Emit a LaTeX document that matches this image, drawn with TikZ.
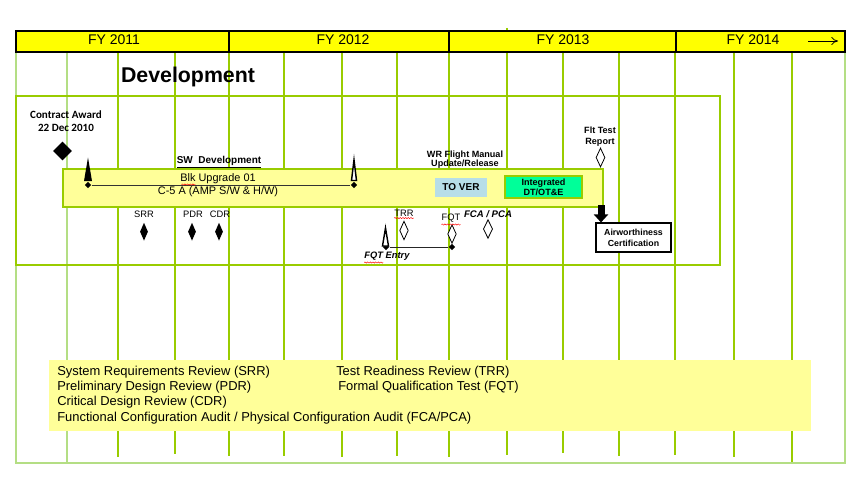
\documentclass[tikz,border=0pt]{standalone}
\usepackage{fontspec}
\setmainfont{Liberation Sans}
\newfontfamily\calibrifont{Carlito}
\usetikzlibrary{shapes.geometric,arrows.meta,decorations.pathmorphing}
\definecolor{hdr}{HTML}{FFFF00}
\definecolor{gridc}{HTML}{99CC00}
\definecolor{gridlt}{HTML}{B4DE84}
\definecolor{paleyel}{HTML}{FFFF99}
\definecolor{tover}{HTML}{B7DEE8}
\definecolor{intgr}{HTML}{00FF99}
\begin{document}
\begin{tikzpicture}[x=0.75pt,y=-0.75pt,
  gridline/.style={gridc, line width=0.8pt},
  borderline/.style={gridlt, line width=1pt},
  lbl/.style={inner sep=0pt, font=\fontsize{7}{8}\selectfont},
  blbl/.style={inner sep=0pt, font=\bfseries\fontsize{6.8}{7}\selectfont, align=center},
  legend/.style={inner sep=0pt, anchor=west, font=\fontsize{9.7}{11}\selectfont},
  msfull/.style={diamond, fill=black, inner sep=0pt, minimum width=6pt, minimum height=13.5pt},
  mshollow/.style={diamond, draw=black, fill=white, line width=0.6pt, inner sep=0pt, minimum width=6.5pt, minimum height=14pt},
  dot/.style={diamond, fill=black, inner sep=0pt, minimum size=5pt},
  spell/.style={red, line width=0.35pt, decorate, decoration={snake, amplitude=0.45pt, segment length=2pt}}]
\useasboundingbox (0,0) rectangle (857,485);
\fill[white] (0,0) rectangle (857,485);
% grid lines
\foreach \x/\e in {118/457,175/454,229/456,284/456,342/457,397/456,449/457,563/453,619/456,675/455,734/457}
  \draw[gridline] (\x,52) -- (\x,\e);
\draw[gridline] (507,28) -- (507,455);
\draw[gridline] (792,52) -- (792,463);
\draw[gridlt, line width=1.2pt] (67,52) -- (67,463);
\draw[borderline] (16,52) -- (16,463) -- (845,463) -- (845,52);
% development box
\draw[gridline] (16,96) rectangle (720,265);
\node[inner sep=0pt, font=\bfseries\fontsize{16}{18}\selectfont] (dev) at (188,77) {Development};
% header
\draw[black, fill=hdr, line width=0.8pt] (16,31) rectangle (845,52);
\foreach \x in {229,449,676} \draw[black, line width=0.8pt] (\x,31) -- (\x,52);
\node[inner sep=0pt, font=\fontsize{10.5}{12}\selectfont] (fy1) at (114,40) {FY 2011};
\node[inner sep=0pt, font=\fontsize{10.5}{12}\selectfont] (fy2) at (343,40) {FY 2012};
\node[inner sep=0pt, font=\fontsize{10.5}{12}\selectfont] (fy3) at (563,40) {FY 2013};
\node[inner sep=0pt, font=\fontsize{10.5}{12}\selectfont] (fy4) at (753,40) {FY 2014};
\coordinate (ha) at (808,41);
\coordinate (hb) at (838,41);
\draw[line width=0.6pt, -{To[length=5pt,width=6pt]}] (ha) -- (hb);
% yellow bar
\node[draw=gridc, fill=paleyel, line width=0.8pt, minimum width=405pt, minimum height=28.5pt, inner sep=0pt] (bar) at (333,188) {};
% contract award
\node[inner sep=0pt, align=center, font=\calibrifont\bfseries\fontsize{8.3}{9.75}\selectfont] (ca) at (66,121) {Contract Award\\22 Dec 2010};
\node[diamond, fill=black, inner sep=0pt, minimum size=14.25pt] (cad) at (62.5,151) {};
% blk upgrade line
\node[dot] (b1) at (88,185) {};
\node[dot] (b2) at (354,185) {};
\draw[black!80, line width=0.7pt] (b1) -- (b2);
\fill[black] (88,157.5) -- (92,181) -- (84,181) -- cycle;
\draw[black, fill=white, line width=1.1pt] (354,160) -- (356.5,180.5) -- (351.5,180.5) -- cycle;
\node[inner sep=0pt, font=\bfseries\fontsize{7.5}{9}\selectfont] (sw) at (219,162) {\underline{SW\ \ Development}};
\node[inner sep=0pt, font=\fontsize{8.2}{9}\selectfont] (blk) at (218,178.5) {Blk Upgrade 01};
\node[inner sep=0pt, font=\fontsize{8.2}{9}\selectfont] (c5) at (218,192) {C-5 A (AMP S/W \& H/W)};
\draw[spell] ([xshift=1pt,yshift=-0.5pt]blk.south west) -- ++(14,0);
% reviews
\node[lbl] (srr) at (144,214) {SRR};
\node[lbl] (pdr) at (193,214) {PDR};
\node[lbl] (cdr) at (220,214) {CDR};
\node[msfull] (srrd) at (144,231.7) {};
\node[msfull] (pdrd) at (192,231.7) {};
\node[msfull] (cdrd) at (219,231.7) {};
\node[lbl] (trr) at (404,213) {TRR};
\node[mshollow] (trrd) at (404,230.5) {};
\draw[spell] ([yshift=-1.2pt]trr.south west) -- ([yshift=-1.2pt]trr.south east);
\node[lbl] (fqt) at (451,218.5) {FQT};
\node[mshollow] (fqtd) at (452,234) {};
\draw[spell] ([yshift=-1.2pt]fqt.south west) -- ([yshift=-1.2pt]fqt.south east);
\node[inner sep=0pt, font=\bfseries\itshape\fontsize{7.2}{8}\selectfont] (fca) at (488,214) {FCA / PCA};
\node[mshollow, minimum width=7pt] (fcad) at (488,229) {};
% FQT entry
\node[dot] (fe1) at (386,247) {};
\node[dot] (fe2) at (452,247) {};
\draw[black!85, line width=0.7pt] (fe1) -- (fe2);
\draw[black, fill=white, line width=1.1pt] (385.5,228) -- (388.5,246) -- (382.5,246) -- cycle;
\node[inner sep=0pt, font=\bfseries\itshape\fontsize{7}{8}\selectfont] (fen) at (387,256) {FQT Entry};
\draw[spell] ([yshift=-1.5pt]fen.south west) -- ++(19,0);
% WR flight manual, TO VER, integrated
\node[blbl, font=\bfseries\fontsize{6.8}{6.9}\selectfont] (wr) at (465,159.5) {WR Flight Manual\\Update/Release};
\node[fill=tover, inner sep=0pt, minimum width=39pt, minimum height=14.25pt, font=\bfseries\fontsize{7.5}{9}\selectfont] (tov) at (461,187.5) {TO VER};
\node[draw=gridc, fill=intgr, line width=0.8pt, inner sep=0pt, minimum width=57.75pt, minimum height=16.5pt, align=center, font=\bfseries\fontsize{6.8}{7.5}\selectfont] (itg) at (543.5,187) {Integrated\\DT/OT\&E};
% flight test report
\node[blbl, font=\bfseries\fontsize{6.8}{8.25}\selectfont] (ftr) at (600,137) {Flt Test\\Report};
\node[mshollow, minimum width=6.75pt, minimum height=14.25pt] (ftrd) at (600.5,157.5) {};
% airworthiness
\node[draw=black, fill=white, line width=0.8pt, inner sep=0pt, minimum width=56.25pt, minimum height=21.75pt, align=center, font=\bfseries\fontsize{6.6}{8.25}\selectfont] (aw) at (633.5,237.5) {Airworthiness\\Certification};
\coordinate (arrtop) at (601,205);
\draw[black, line width=5.25pt, -{Triangle[width=10.5pt,length=6pt]}] (arrtop) -- (arrtop |- aw.north);
% legend
\fill[paleyel] (49,360) rectangle (811,431);
\node[legend] (l1) at (57,372) {System Requirements Review (SRR)};
\node[legend] (l2) at (57,387) {Preliminary Design Review (PDR)};
\node[legend] (l3) at (57,402) {Critical Design Review (CDR)};
\node[legend] (l4) at (57,418) {Functional Configuration Audit / Physical Configuration Audit (FCA/PCA)};
\node[legend] (l5) at (336,372) {Test Readiness Review (TRR)};
\node[legend] (l6) at (338,387) {Formal Qualification Test (FQT)};
\end{tikzpicture}
\end{document}
